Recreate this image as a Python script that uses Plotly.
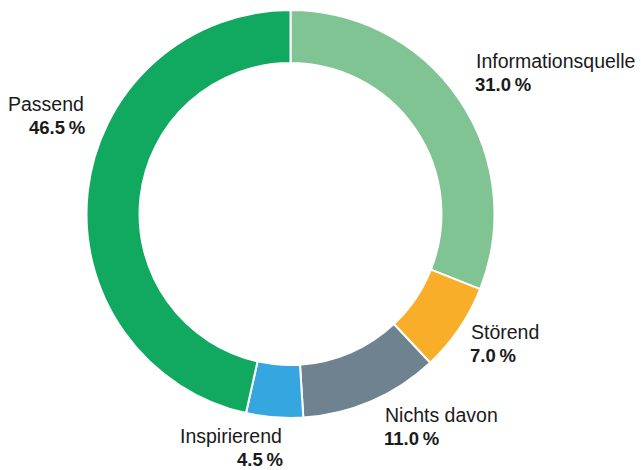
import plotly.graph_objects as go

labels = ["Informationsquelle", "Störend", "Nichts davon", "Inspirierend", "Passend"]
values = [31.0, 7.0, 11.0, 4.5, 46.5]
colors = ["#80c493", "#f8ae28", "#6e8290", "#35a6df", "#10a95f"]

W, H = 641, 470
cx, cy, r = 290.5, 214, 204

# label anchor positions (px): x, y of first line center, xanchor
label_pos = [
    (474, 61, "left"),
    (469, 332, "left"),
    (383, 415, "left"),
    (284, 436, "right"),
    (86, 104, "right"),
]

fig = go.Figure(go.Pie(
    labels=labels, values=values, sort=False, direction="clockwise",
    hole=0.74, marker=dict(colors=colors, line=dict(color="white", width=2)),
    textinfo="none", showlegend=False,
    domain=dict(x=[(cx - r) / W, (cx + r) / W], y=[(H - cy - r) / H, (H - cy + r) / H]),
))

fam = "Liberation Sans, Arial, sans-serif"
for lab, val, (px, py, xa) in zip(labels, values, label_pos):
    fig.add_annotation(x=px / W, y=1 - py / H, xref="paper", yref="paper",
                       text=lab, showarrow=False, xanchor=xa, yanchor="middle",
                       font=dict(family=fam, size=19.5, color="#1a1a1a"))
    fig.add_annotation(x=px / W, y=1 - (py + 23) / H, xref="paper", yref="paper",
                       text=f"<b>{val:.1f}\u2009%</b>", showarrow=False, xanchor=xa,
                       yanchor="middle", borderpad=0,
                       font=dict(family=fam, size=18.5, color="#1a1a1a"))

fig.update_layout(width=W, height=H, margin=dict(l=0, r=0, t=0, b=0),
                  paper_bgcolor="white", plot_bgcolor="white")
fig.write_html("out.html", config={"displayModeBar": False},
               post_script="document.body.style.margin='0';document.body.style.overflow='hidden';")
